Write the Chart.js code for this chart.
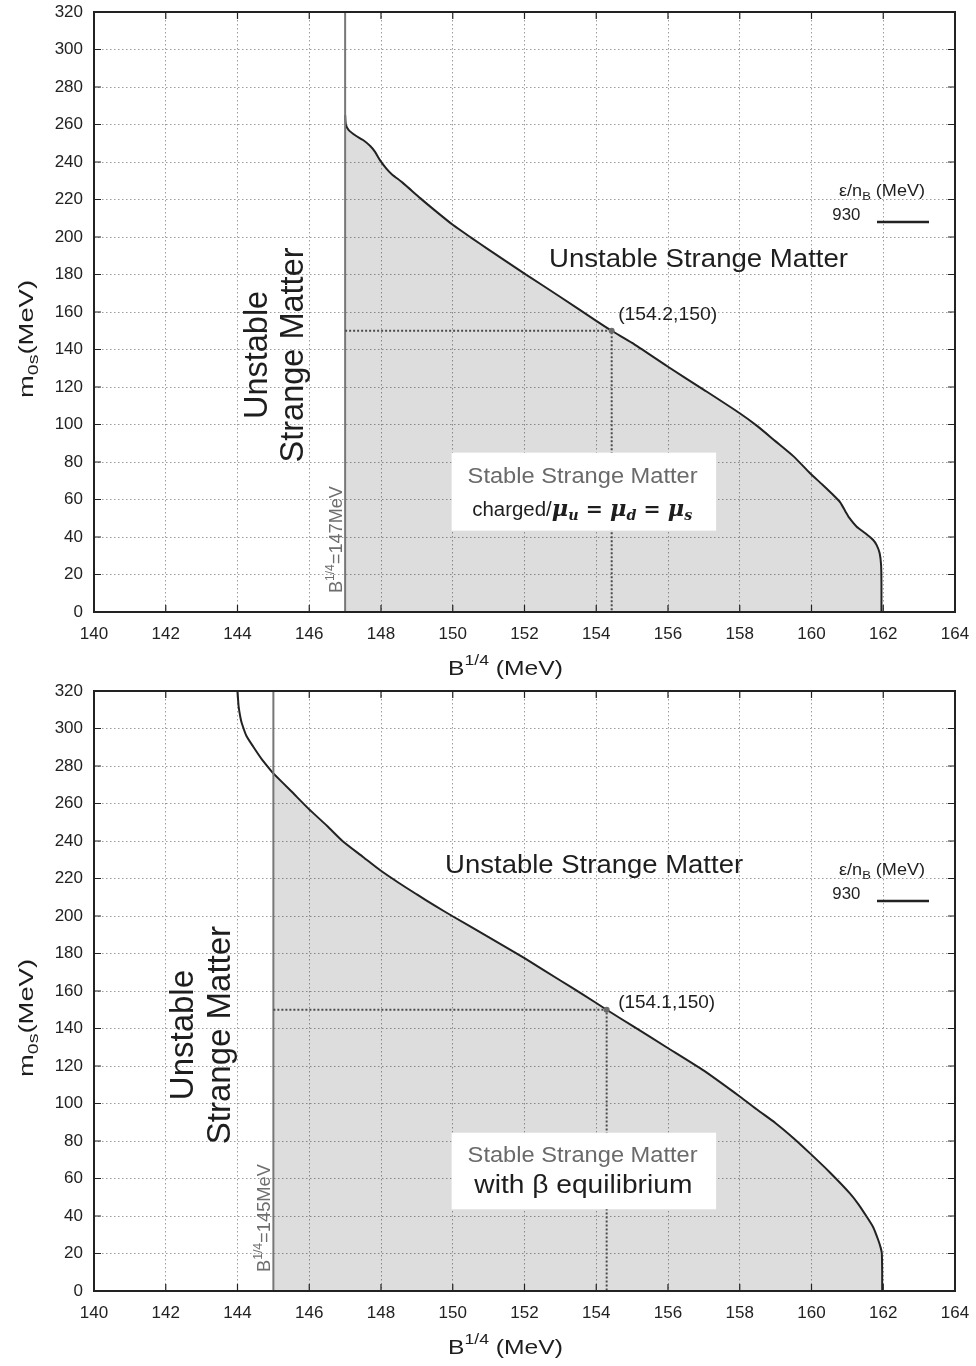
<!DOCTYPE html>
<html>
<head>
<meta charset="utf-8">
<title>Stable strange matter windows</title>
<script src="https://cdn.jsdelivr.net/npm/chart.js@4.4.0/dist/chart.umd.min.js"></script>
<style>
  html, body { margin: 0; padding: 0; background: #fff; }
  .panel { position: relative; width: 976px; height: 683px; }
</style>
</head>
<body>
<div class="panel"><canvas id="chartA"></canvas></div>
<div class="panel"><canvas id="chartB"></canvas></div>
<script>
// Ticks shared by both panels
const xTicks = [140, 142, 144, 146, 148, 150, 152, 154, 156, 158, 160, 162, 164];
const yTicks = [0, 20, 40, 60, 80, 100, 120, 140, 160, 180, 200, 220, 240, 260, 280, 300, 320];

// Upper panel: charged, mu_u = mu_d = mu_s
const curveAx = [147.00, 147.02, 147.10, 147.30, 147.50, 147.70, 147.83, 147.97, 148.15, 148.30, 148.60, 149.10,
  149.50, 150.00, 150.50, 151.00, 152.00, 153.00, 154.00, 154.43, 155.00, 156.00, 157.00, 158.00, 158.50, 159.00,
  159.50, 159.96, 160.30, 160.60, 160.80, 160.95, 161.05, 161.26, 161.50, 161.72, 161.82, 161.90, 161.94, 161.95, 161.95];
const curveAy = [265, 260, 257, 254, 251.7, 248.5, 245.5, 241, 236.5, 233.5, 229, 220.6,
  214.2, 206.5, 199.8, 193.3, 180.5, 168, 155.3, 150, 143.5, 130.8, 118.5, 106, 99, 91,
  83, 74, 68, 62.5, 58.5, 53.5, 50.3, 45.5, 42, 38.4, 35.5, 31.3, 25, 15, 0];
const limitA = 147;
const crossA = [154.43, 150];
const crossLabelA = '(154.2,150)';

// Lower panel: beta equilibrium
const curveBx = [144.00, 144.03, 144.08, 144.12, 144.25, 144.44, 144.70, 145.00, 145.50, 145.97, 146.50, 146.95,
  147.50, 147.97, 148.50, 149.00, 149.50, 150.02, 151.00, 152.00, 153.00, 153.60, 154.29, 155.00, 155.96, 157.00,
  158.01, 158.50, 159.00, 159.50, 159.96, 160.50, 161.07, 161.30, 161.54, 161.72, 161.86, 161.93, 161.96, 161.97, 161.97];
const curveBy = [320, 312, 306, 302.8, 296, 290.3, 283, 276, 266.5, 257.4, 248, 239.6,
  231.5, 224.5, 217.6, 211.5, 205.5, 199.6, 188.7, 177.5, 165.6, 158.5, 150, 141.5, 130, 117.5,
  103.6, 96.5, 89.5, 81.5, 73.4, 63.5, 52.1, 46.5, 39.6, 34, 27.2, 23, 20.1, 10, 0];
const limitB = 145;
const crossB = [154.29, 150];
const crossLabelB = '(154.1,150)';

const legendValue = '930';

const SANS = '"Liberation Sans", Arial, Helvetica, sans-serif';
const SERIF = '"DejaVu Serif", "Liberation Serif", serif';
const sans = px => px + 'px ' + SANS;
const mathF = px => 'bold italic ' + px + 'px ' + SERIF;

// draws a run of pieces [text, font, dy], optionally stretched to a width
function drawRich(ctx, parts, px, py, o) {
  ctx.save();
  ctx.translate(px, py);
  if (o.rot) ctx.rotate(-Math.PI / 2);
  let w = 0;
  parts.forEach(p => { ctx.font = p[1]; w += ctx.measureText(p[0]).width; });
  const k = o.width ? o.width / w : 1;
  ctx.scale(k, 1);
  let cx = o.align === 'center' ? -w / 2 : (o.align === 'right' ? -w : 0);
  ctx.fillStyle = o.color || '#1e1e1e';
  ctx.textAlign = 'left';
  ctx.textBaseline = 'alphabetic';
  parts.forEach(p => {
    ctx.font = p[1];
    ctx.fillText(p[0], cx, p[2] || 0);
    cx += ctx.measureText(p[0]).width;
  });
  ctx.restore();
}

const chargedParts = [
  ['charged/', sans(20)],
  ['\u03bc', mathF(22)], ['u', mathF(14), 4],
  [' = ', 'bold 20px ' + SERIF],
  ['\u03bc', mathF(22)], ['d', mathF(14), 4],
  [' = ', 'bold 20px ' + SERIF],
  ['\u03bc', mathF(22)], ['s', mathF(14), 4]
];

function buildChart(id, cfg) {
  const pts = cfg.xs.map((x, i) => ({ x: x, y: cfg.ys[i] }));
  const inside = pts.filter(p => p.x >= cfg.limit);
  const outside = pts.filter(p => p.x <= cfg.limit);
  const yMax = yTicks[yTicks.length - 1];

  const datasets = [
    { data: [{ x: cfg.cross[0], y: cfg.cross[1] }], showLine: false, pointRadius: 3,
      pointBackgroundColor: '#6a6a6a', pointBorderWidth: 0 },
    { data: [{ x: cfg.limit, y: cfg.cross[1] }, { x: cfg.cross[0], y: cfg.cross[1] }, { x: cfg.cross[0], y: 0 }],
      borderColor: '#4a4a4a', borderWidth: 2, borderDash: [2, 2], pointRadius: 0 },
    { data: [{ x: cfg.limit, y: 0 }, { x: cfg.limit, y: yMax }], borderColor: '#777', borderWidth: 2, pointRadius: 0 },
    { data: outside, borderColor: '#222', borderWidth: 2, pointRadius: 0, tension: 0.2 },
    { data: inside, borderColor: '#222', borderWidth: 2, pointRadius: 0, tension: 0.2,
      fill: 'origin', backgroundColor: 'rgba(0,0,0,0.135)' }
  ];

  const grid = { color: '#9c9c9c', lineWidth: 1, drawTicks: false };
  const border = { display: false, dash: [1.5, 2.5] };
  const tickFont = { family: SANS, size: 17 };

  const decor = {
    id: 'decor',
    afterDraw(chart) {
      const { ctx, chartArea: a, scales: { x, y } } = chart;

      // white label box
      const b = cfg.box;
      const bx0 = x.getPixelForValue(b[0]), bx1 = x.getPixelForValue(b[1]);
      const by0 = y.getPixelForValue(b[2]), by1 = y.getPixelForValue(b[3]);
      ctx.fillStyle = '#fff';
      ctx.fillRect(bx0, by0, bx1 - bx0, by1 - by0);

      cfg.notes.forEach(n => drawRich(ctx, n.parts, x.getPixelForValue(n.x), y.getPixelForValue(n.y), n));

      // frame and inner ticks
      ctx.save();
      ctx.strokeStyle = '#222';
      ctx.lineWidth = 1.2;
      ctx.beginPath();
      xTicks.forEach(v => {
        const px = x.getPixelForValue(v);
        ctx.moveTo(px, a.bottom); ctx.lineTo(px, a.bottom - 7);
        ctx.moveTo(px, a.top); ctx.lineTo(px, a.top + 7);
      });
      yTicks.forEach(v => {
        const py = y.getPixelForValue(v);
        ctx.moveTo(a.left, py); ctx.lineTo(a.left + 7, py);
        ctx.moveTo(a.right, py); ctx.lineTo(a.right - 7, py);
      });
      ctx.stroke();
      ctx.lineWidth = 2;
      ctx.strokeRect(a.left, a.top, a.right - a.left, a.bottom - a.top);

      // legend
      drawRich(ctx, [['\u03b5/n', sans(16)], ['B', sans(11.5), 4], [' (MeV)', sans(16)]],
        a.right - 116, a.top + 184, { width: 86 });
      drawRich(ctx, [[legendValue, sans(16)]], a.right - 122.7, a.top + 208, { width: 28 });
      ctx.lineWidth = 2.5;
      ctx.beginPath();
      ctx.moveTo(a.right - 78, a.top + 210);
      ctx.lineTo(a.right - 26, a.top + 210);
      ctx.stroke();
      ctx.restore();

      // axis titles
      drawRich(ctx, [['B', sans(21)], ['1/4', sans(15), -10], [' (MeV)', sans(21)]],
        a.left + 354, a.bottom + 63, { width: 115 });
      drawRich(ctx, [['m', sans(21)], ['0s', sans(15), 5], ['(MeV)', sans(21)]],
        33, a.top + 327, { rot: true, align: 'center', width: 118 });
    }
  };

  return new Chart(document.getElementById(id), {
    type: 'line',
    data: { datasets: datasets },
    options: {
      responsive: true,
      maintainAspectRatio: false,
      animation: false,
      events: [],
      layout: { padding: { top: cfg.padTop, right: 21, left: 0, bottom: 0 } },
      plugins: { legend: { display: false }, tooltip: { enabled: false } },
      scales: {
        x: {
          type: 'linear', min: xTicks[0], max: xTicks[xTicks.length - 1],
          afterBuildTicks: s => { s.ticks = xTicks.map(v => ({ value: v })); },
          afterFit: s => { s.height = cfg.axisH; s.paddingLeft = 0; s.paddingRight = 0; },
          grid: grid, border: border,
          ticks: { padding: 12, color: '#222', font: tickFont, autoSkip: false, maxRotation: 0 }
        },
        y: {
          type: 'linear', min: yTicks[0], max: yMax,
          afterBuildTicks: s => { s.ticks = yTicks.map(v => ({ value: v })); },
          afterFit: s => { s.width = 94; s.paddingTop = 0; s.paddingBottom = 0; },
          grid: grid, border: border,
          ticks: { padding: 11, color: '#222', font: tickFont, autoSkip: false }
        }
      }
    },
    plugins: [decor]
  });
}

buildChart('chartA', {
  xs: curveAx, ys: curveAy, limit: limitA, cross: crossA,
  padTop: 12, axisH: 71,
  box: [149.97, 157.34, 85.0, 43.4],
  notes: [
    { x: 156.85, y: 184.0, align: 'center', width: 299, parts: [['Unstable Strange Matter', sans(26.5)]] },
    { x: 154.61, y: 155.7, width: 99, parts: [[crossLabelA, sans(18)]] },
    { x: 153.62, y: 69.0, align: 'center', width: 230, color: '#6a6a6a', parts: [['Stable Strange Matter', sans(22)]] },
    { x: 153.61, y: 51.2, align: 'center', width: 220, parts: chargedParts },
    { x: 144.82, y: 137.1, rot: true, align: 'center', parts: [['Unstable', sans(32.5)]] },
    { x: 145.83, y: 137.1, rot: true, align: 'center', parts: [['Strange Matter', sans(32.5)]] },
    { x: 146.91, y: 10.1, rot: true, width: 107, color: '#6e6e6e',
      parts: [['B', sans(18)], ['1/4', sans(12), -8], ['=147MeV', sans(18)]] }
  ]
});

buildChart('chartB', {
  xs: curveBx, ys: curveBy, limit: limitB, cross: crossB,
  padTop: 8, axisH: 75,
  box: [149.97, 157.34, 84.4, 43.6],
  notes: [
    { x: 153.94, y: 223.1, align: 'center', width: 298, parts: [['Unstable Strange Matter', sans(26.5)]] },
    { x: 154.61, y: 150.8, width: 97, parts: [[crossLabelB, sans(18)]] },
    { x: 153.62, y: 68.6, align: 'center', width: 230, color: '#6a6a6a', parts: [['Stable Strange Matter', sans(22)]] },
    { x: 153.64, y: 52.1, align: 'center', width: 218, parts: [['with \u03b2 equilibrium', sans(25)]] },
    { x: 142.76, y: 136.5, rot: true, align: 'center', parts: [['Unstable', sans(33)]] },
    { x: 143.79, y: 136.5, rot: true, align: 'center', parts: [['Strange Matter', sans(33)]] },
    { x: 144.91, y: 10.1, rot: true, width: 108, color: '#6e6e6e',
      parts: [['B', sans(18)], ['1/4', sans(12), -8], ['=145MeV', sans(18)]] }
  ]
});
</script>
</body>
</html>
